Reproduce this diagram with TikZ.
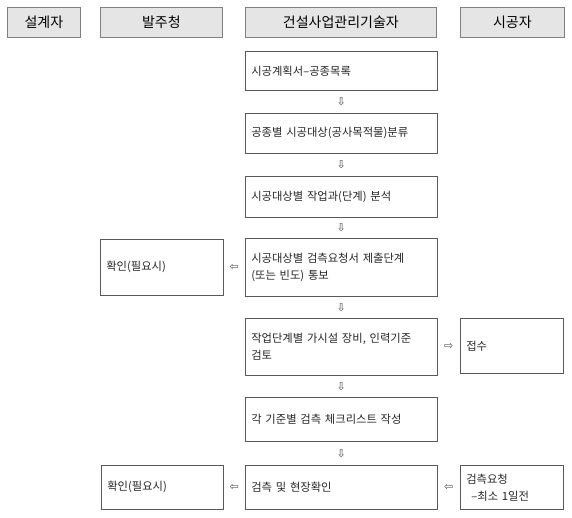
\documentclass[tikz,border=0pt]{standalone}
\usepackage{fontspec}
\usetikzlibrary{calc}
\newfontfamily\kfont{Noto Sans CJK KR}
\newfontfamily\afont{DejaVu Sans}
\begin{document}
\begin{tikzpicture}[x=1pt,y=-1pt]
\tikzset{
 hdr/.style={draw=black!50, fill=black!10, line width=0.7pt, font=\kfont\fontsize{14}{16}\selectfont, minimum height=30pt, anchor=north west, inner sep=0pt},
 bx/.style={draw=black!65, fill=white, line width=0.6pt, font=\kfont\fontsize{11.3}{17}\selectfont, text=black!85, anchor=north west, align=left, inner xsep=6pt, inner ysep=0pt},
 arr/.style={font=\afont\fontsize{11}{11}\selectfont, text=black!70, inner sep=0pt}
}
\fill[white] (0,0) rectangle (572,518);
\useasboundingbox (0,0) rectangle (572,518);
% headers
\node[hdr, minimum width=73pt] (h1) at (7,7) {설계자};
\node[hdr, minimum width=122pt] (h2) at (100,7) {발주청};
\node[hdr, minimum width=191pt] (h3) at (245,7) {건설사업관리기술자};
\node[hdr, minimum width=104pt] (h4) at (460,7) {시공자};
% main column
\node[bx, minimum width=192pt, text width=180pt, minimum height=39pt] (b1) at (245,51) {시공계획서–공종목록};
\node[bx, minimum width=192pt, text width=180pt, minimum height=40pt] (b2) at (245,113) {공종별 시공대상(공사목적물)분류};
\node[bx, minimum width=192pt, text width=180pt, minimum height=41pt] (b3) at (245,176) {시공대상별 작업과(단계) 분석};
\node[bx, minimum width=192pt, text width=180pt, minimum height=58pt] (b4) at (245,238) {시공대상별 검측요청서 제출단계\\(또는 빈도) 통보};
\node[bx, minimum width=192pt, text width=180pt, minimum height=57pt] (b5) at (245,318) {작업단계별 가시설 장비, 인력기준\\검토};
\node[bx, minimum width=192pt, text width=180pt, minimum height=44pt] (b6) at (245,397) {각 기준별 검측 체크리스트 작성};
\node[bx, minimum width=192pt, text width=180pt, minimum height=44pt] (b7) at (245,465) {검측 및 현장확인};
% side boxes
\node[bx, minimum width=123pt, text width=111pt, minimum height=56pt] (l4) at (100,239) {확인(필요시)};
\node[bx, minimum width=103pt, text width=91pt, minimum height=55pt] (r5) at (460,318) {접수};
\node[bx, minimum width=122pt, text width=110pt, minimum height=44pt] (l7) at (101,465) {확인(필요시)};
\node[bx, minimum width=103pt, text width=91pt, minimum height=44pt] (r7) at (460,465) {검측요청\\\hspace*{5pt}–최소 1일전};
% arrows
\node[arr] (a12) at ($(b1.south)!0.5!(b2.north)$) {⇩};
\node[arr] (a23) at ($(b2.south)!0.5!(b3.north)$) {⇩};
\node[arr] (a34) at ($(b3.south)!0.5!(b4.north)$) {⇩};
\node[arr] (a45) at ($(b4.south)!0.5!(b5.north)$) {⇩};
\node[arr] (a56) at ($(b5.south)!0.5!(b6.north)$) {⇩};
\node[arr] (a67) at ($(b6.south)!0.5!(b7.north)$) {⇩};
\node[arr] (a4l) at ($(l4.east)!0.5!(b4.west)$) {⇦};
\node[arr] (a5r) at ($(b5.east)!0.5!(r5.west)$) {⇨};
\node[arr] (a7l) at ($(l7.east)!0.5!(b7.west)$) {⇦};
\node[arr] (a7r) at ($(b7.east)!0.5!(r7.west)$) {⇦};
\end{tikzpicture}
\end{document}
